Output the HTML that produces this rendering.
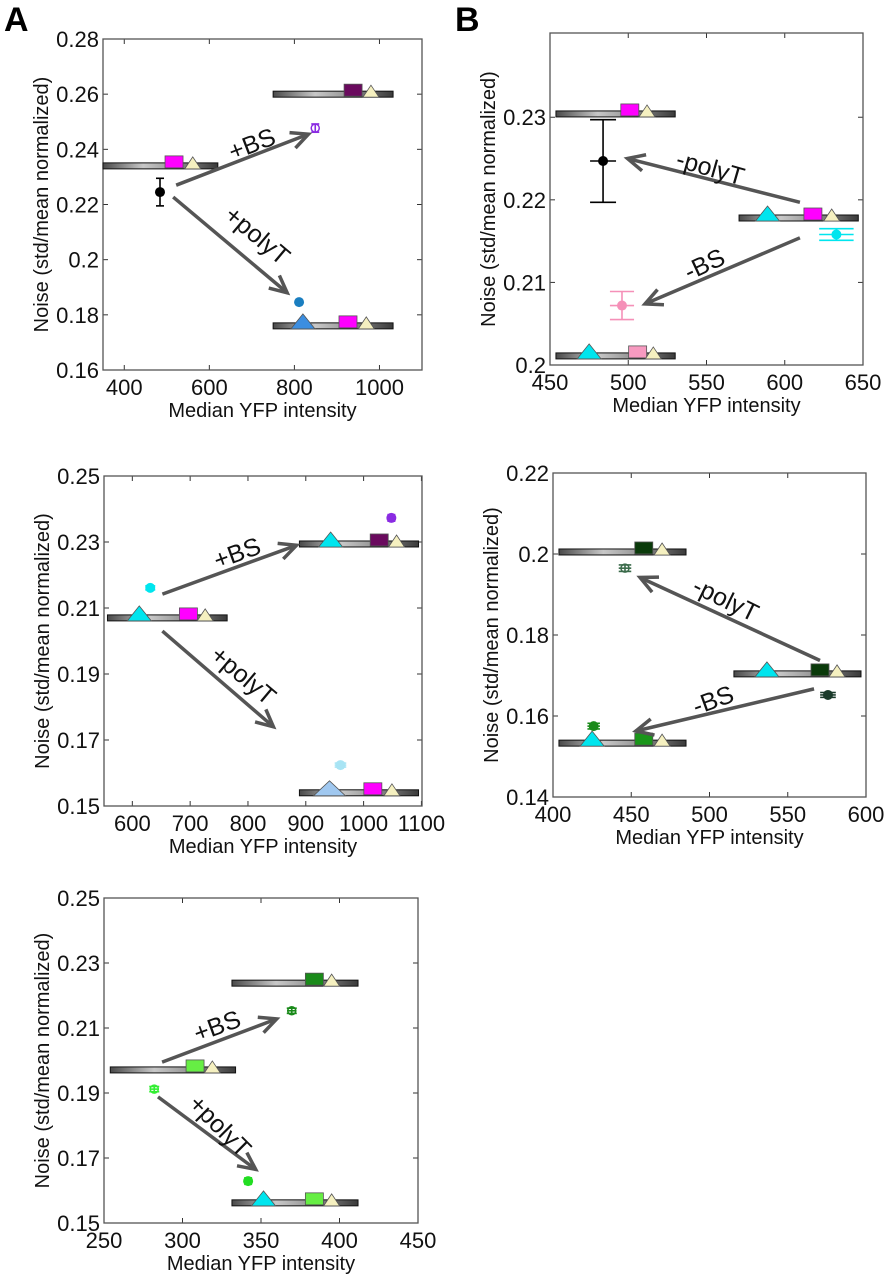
<!DOCTYPE html>
<html><head><meta charset="utf-8">
<style>
html,body{margin:0;padding:0;background:#fff;}
svg{display:block;font-family:"Liberation Sans",Arial,sans-serif;}
</style></head>
<body>
<svg id="fig" width="886" height="1280" viewBox="0 0 886 1280" xmlns="http://www.w3.org/2000/svg">
<defs>
<linearGradient id="barg" x1="0" x2="1" y1="0" y2="0">
<stop offset="0" stop-color="#4a4a4a"/><stop offset="0.35" stop-color="#c8c8c8"/><stop offset="0.6" stop-color="#9a9a9a"/><stop offset="1" stop-color="#3a3a3a"/>
</linearGradient>
</defs>
<text x="4" y="31" font-size="34" font-weight="bold">A</text>
<text x="455" y="31" font-size="34" font-weight="bold">B</text>
</svg>
<script>
// ---- Panel A1 data ----
const a1XTicks = [400, 600, 800, 1000];
const a1YTicks = [0.16, 0.18, 0.2, 0.22, 0.24, 0.26, 0.28];
const a1YLabels = ["0.16", "0.18", "0.2", "0.22", "0.24", "0.26", "0.28"];
const a1Bars = [[350, 620, 0.234], [750, 1032, 0.26], [750, 1032, 0.176]];
const a1Squares = [[517, 0.234, "#ff00ff"], [938, 0.26, "#6a0a5e"], [926, 0.176, "#ff00ff"]];
const a1Triangles = [[561, 0.234, "#f5f0c0", 0], [980, 0.26, "#f5f0c0", 0], [820, 0.176, "#3c8ee0", 1], [969, 0.176, "#f5f0c0", 0]];
const a1Points = [[484, 0.2245, 0.005, 0, "#000000", 1], [849, 0.2477, 0.0015, 0, "#8a2be2", 0], [811, 0.1846, 0, 10, "#1a7ec0", 1]];
const a1Arrows = [[522, 0.227, 833, 0.2455], [515, 0.2227, 783, 0.188]];
const a1ArrowLabels = ["+BS", "+polyT"];
// ---- Panel B1 data ----
const b1XTicks = [450, 500, 550, 600, 650];
const b1YTicks = [0.2, 0.21, 0.22, 0.23];
const b1YLabels = ["0.2", "0.21", "0.22", "0.23"];
const b1Bars = [[453.8, 530, 0.2304], [570.8, 647, 0.2178], [453.8, 530, 0.2011]];
const b1Squares = [[501, 0.2304, "#ff00ff"], [618, 0.2178, "#ff00ff"], [506, 0.2011, "#f79ac0"]];
const b1Triangles = [[512, 0.2304, "#f5f0c0", 0], [589, 0.2178, "#00e5ee", 1], [630, 0.2178, "#f5f0c0", 0], [475, 0.2011, "#00e5ee", 1], [516, 0.2011, "#f5f0c0", 0]];
const b1Points = [[483.9, 0.2247, 0.005, 8.3, "#000000", 1], [633, 0.2158, 0.0007, 11, "#00e5ee", 1], [496, 0.2072, 0.0017, 7.7, "#f590b8", 1]];
const b1Arrows = [[609.7, 0.2197, 499.5, 0.225], [609.7, 0.2154, 510.7, 0.2074]];
const b1ArrowLabels = ["-polyT", "-BS"];
// ---- Panel A2 data ----
const a2XTicks = [600, 700, 800, 900, 1000, 1100];
const a2YTicks = [0.15, 0.17, 0.19, 0.21, 0.23, 0.25];
const a2YLabels = ["0.15", "0.17", "0.19", "0.21", "0.23", "0.25"];
const a2Bars = [[557, 764, 0.207], [889, 1095, 0.2294], [889, 1095, 0.154]];
const a2Squares = [[697, 0.207, "#ff00ff"], [1027, 0.2294, "#6a0a5e"], [1016, 0.154, "#ff00ff"]];
const a2Triangles = [[612, 0.207, "#00e5ee", 1], [726, 0.207, "#f5f0c0", 0], [943, 0.2294, "#00e5ee", 1], [1057, 0.2294, "#f5f0c0", 0], [941, 0.154, "#a0c8f0", 2], [1049, 0.154, "#f5f0c0", 0]];
const a2Points = [[631, 0.2161, 0.0006, 8, "#00e5ee", 1], [1048, 0.2373, 0.001, 0, "#8a2be2", 1], [960, 0.1624, 0.0006, 10, "#a8e4f4", 1]];
const a2Arrows = [[652, 0.2142, 884, 0.229], [652, 0.203, 844, 0.174]];
const a2ArrowLabels = ["+BS", "+polyT"];
// ---- Panel B2 data ----
const b2XTicks = [400, 450, 500, 550, 600];
const b2YTicks = [0.14, 0.16, 0.18, 0.2, 0.22];
const b2YLabels = ["0.14", "0.16", "0.18", "0.2", "0.22"];
const b2Bars = [[403.8, 485, 0.2005], [515.6, 596.8, 0.1704], [403.8, 485, 0.1533]];
const b2Squares = [[458, 0.2005, "#0a3a0a"], [570.6, 0.1704, "#0a3a0a"], [458, 0.1533, "#1a961a"]];
const b2Triangles = [[469.7, 0.2005, "#f5f0c0", 0], [536.7, 0.1704, "#00e5ee", 1], [581.5, 0.1704, "#f5f0c0", 0], [425, 0.1533, "#00e5ee", 1], [469.7, 0.1533, "#f5f0c0", 0]];
const b2Points = [[446, 0.1965, 0.0008, 4, "#3a6a4a", 0], [575.7, 0.1652, 0.0006, 5, "#1a3a2a", 1], [426, 0.1575, 0.0007, 4, "#1a8a1a", 1]];
const b2Arrows = [[570.6, 0.1737, 455.6, 0.1942], [566.8, 0.1667, 453, 0.1563]];
const b2ArrowLabels = ["-polyT", "-BS"];
// ---- Panel A3 data ----
const a3XTicks = [250, 300, 350, 400, 450];
const a3YTicks = [0.15, 0.17, 0.19, 0.21, 0.23, 0.25];
const a3YLabels = ["0.15", "0.17", "0.19", "0.21", "0.23", "0.25"];
const a3Bars = [[254, 333.8, 0.1971], [331.5, 411.8, 0.2238], [331.5, 411.8, 0.1562]];
const a3Squares = [[308, 0.1971, "#66ee44"], [384, 0.2238, "#1a8a1a"], [384, 0.1562, "#66ee44"]];
const a3Triangles = [[319, 0.1971, "#f5f0c0", 0], [395, 0.2238, "#f5f0c0", 0], [351.6, 0.1562, "#00e5ee", 1], [395, 0.1562, "#f5f0c0", 0]];
const a3Points = [[282, 0.1912, 0.0008, 3, "#33ee33", 0], [369.6, 0.2153, 0.0008, 3, "#1a8a1a", 0], [341.8, 0.1629, 0.001, 0, "#22dd22", 1]];
const a3Arrows = [[287, 0.1995, 360, 0.2128], [284.4, 0.1888, 346.6, 0.1665]];
const a3ArrowLabels = ["+BS", "+polyT"];

const NS = "http://www.w3.org/2000/svg";
const svg = document.getElementById("fig");
function mk(tag, attrs, parent) {
  const e = document.createElementNS(NS, tag);
  for (const k in attrs) e.setAttribute(k, attrs[k]);
  (parent || svg).appendChild(e);
  return e;
}

function panel(id, box, xDom, yDom, xTicks, yTicks, yLabels, bars, squares, tris, pts, arrows, arrowLabels, labelPos) {
  const [L, T, R, B] = box;
  const sx = v => L + (v - xDom[0]) / (xDom[1] - xDom[0]) * (R - L);
  const sy = v => B - (v - yDom[0]) / (yDom[1] - yDom[0]) * (B - T);
  const g = mk("g", {});
  
  
  xTicks.forEach(t => {
    const x = sx(t);
    mk("line", {x1: x, x2: x, y1: B, y2: B - 5, stroke: "#333", "stroke-width": 1}, g);
    mk("line", {x1: x, x2: x, y1: T, y2: T + 5, stroke: "#333", "stroke-width": 1}, g);
    const tx = mk("text", {x: x, y: B + 25, "font-size": 22, "text-anchor": "middle", fill: "#111"}, g);
    tx.textContent = String(t);
    
    
  });
  yTicks.forEach((t, i) => {
    const y = sy(t);
    mk("line", {x1: L, x2: L + 5, y1: y, y2: y, stroke: "#333", "stroke-width": 1}, g);
    mk("line", {x1: R, x2: R - 5, y1: y, y2: y, stroke: "#333", "stroke-width": 1}, g);
    const tx = mk("text", {x: L - 4, y: y + 8, "font-size": 22, "text-anchor": "end", fill: "#111"}, g);
    tx.textContent = yLabels[i];
    
    
  });
  const frame = mk("rect", {x: L, y: T, width: R - L, height: B - T, fill: "none", stroke: "#555", "stroke-width": 1.3}, g);
  
  
  const xl = mk("text", {x: (L + R) / 2, y: B + 47, "font-size": 20, "text-anchor": "middle", fill: "#111"}, g);
  xl.textContent = "Median YFP intensity";
  
  
  const yc = (T + B) / 2, yx = L - 55;
  const yl = mk("text", {x: yx, y: yc, "font-size": 20, "text-anchor": "middle", fill: "#111", transform: "rotate(-90 " + yx + " " + yc + ")"}, g);
  yl.textContent = "Noise (std/mean normalized)";
  
  
  bars.forEach(b => {
    const x0 = Math.max(sx(b[0]), L - 3), x1 = sx(b[1]), y = sy(b[2]);
    const r = mk("rect", {x: x0, y: y - 3, width: x1 - x0, height: 6, fill: "url(#barg)", stroke: "#111", "stroke-width": 1}, g);
    
    
  });
  squares.forEach(s => {
    const x = sx(s[0]), y = sy(s[1]);
    const r = mk("rect", {x: x - 9, y: y - 10, width: 18, height: 12, fill: s[2], stroke: "#555", "stroke-width": 0.8}, g);
    
    
  });
  tris.forEach(t => {
    const x = sx(t[0]), y = sy(t[1]) + 3;
    const w = t[3] === 2 ? 16 : (t[3] === 1 ? 12 : 8), h = t[3] === 2 ? 15 : (t[3] === 1 ? 15 : 12);
    const p = mk("polygon", {points: (x - w) + "," + y + " " + (x + w) + "," + y + " " + x + "," + (y - h), fill: t[2], stroke: "#555", "stroke-width": 0.8}, g);
    
    
  });
  pts.forEach(p => {
    const x = sx(p[0]), y = sy(p[1]), c = p[4];
    const pg = mk("g", {stroke: c, "stroke-width": 1.6}, g);
    
    
    if (p[2] > 0) {
      const y0 = sy(p[1] - p[2]), y1 = sy(p[1] + p[2]);
      mk("line", {x1: x, x2: x, y1: y0, y2: y1}, pg);
      const cw = p[3] > 0 ? Math.max(sx(p[0] + p[3]) - x, 5) : 4;
      mk("line", {x1: x - cw, x2: x + cw, y1: y0, y2: y0}, pg);
      mk("line", {x1: x - cw, x2: x + cw, y1: y1, y2: y1}, pg);
    }
    if (p[3] > 0) {
      const dx = sx(p[0] + p[3]) - x;
      mk("line", {x1: x - dx, x2: x + dx, y1: y, y2: y}, pg);
    }
    mk("circle", {cx: x, cy: y, r: p[5] ? 5 : 4, fill: p[5] ? c : "none", "stroke-width": p[5] ? 0 : 1.5}, pg);
  });
  arrows.forEach((a, i) => {
    const x0 = sx(a[0]), y0 = sy(a[1]), x1 = sx(a[2]), y1 = sy(a[3]);
    const ag = mk("g", {stroke: "#555", "stroke-width": 3.5, fill: "none", "stroke-linecap": "butt"}, g);
    
    
    mk("line", {x1: x0, y1: y0, x2: x1, y2: y1}, ag);
    const ang = Math.atan2(y1 - y0, x1 - x0), hl = 19, ha = 0.45;
    mk("polyline", {points: (x1 - hl * Math.cos(ang - ha)) + "," + (y1 - hl * Math.sin(ang - ha)) + " " + x1 + "," + y1 + " " + (x1 - hl * Math.cos(ang + ha)) + "," + (y1 - hl * Math.sin(ang + ha))}, ag);
    const lp = labelPos[i];
    const tx = mk("text", {x: lp[0], y: lp[1], "font-size": 25, "text-anchor": "middle", fill: "#111", transform: "rotate(" + lp[2] + " " + lp[0] + " " + lp[1] + ")"}, g);
    tx.textContent = arrowLabels[i];
    
    
  });
}

panel("panel-a1", [103, 39, 422, 370], [350, 1100], [0.16, 0.28], a1XTicks, a1YTicks, a1YLabels, a1Bars, a1Squares, a1Triangles, a1Points, a1Arrows, a1ArrowLabels, [[255, 152, -21], [252, 242, 40]]);
panel("panel-b1", [550, 33, 863, 365], [450, 650], [0.2, 0.2402], b1XTicks, b1YTicks, b1YLabels, b1Bars, b1Squares, b1Triangles, b1Points, b1Arrows, b1ArrowLabels, [[708, 176, 16], [708, 272, -25]]);
panel("panel-a2", [104, 476, 422, 806], [551, 1101], [0.15, 0.25], a2XTicks, a2YTicks, a2YLabels, a2Bars, a2Squares, a2Triangles, a2Points, a2Arrows, a2ArrowLabels, [[240, 561, -20], [238, 682, 40]]);
panel("panel-b2", [553, 473, 866, 797], [400, 600], [0.14, 0.22], b2XTicks, b2YTicks, b2YLabels, b2Bars, b2Squares, b2Triangles, b2Points, b2Arrows, b2ArrowLabels, [[722, 607, 26], [716, 708, -20]]);
panel("panel-a3", [104, 898, 418, 1223], [250, 450], [0.15, 0.25], a3XTicks, a3YTicks, a3YLabels, a3Bars, a3Squares, a3Triangles, a3Points, a3Arrows, a3ArrowLabels, [[220, 1034, -20], [214, 1132, 45]]);
</script>
</body></html>
